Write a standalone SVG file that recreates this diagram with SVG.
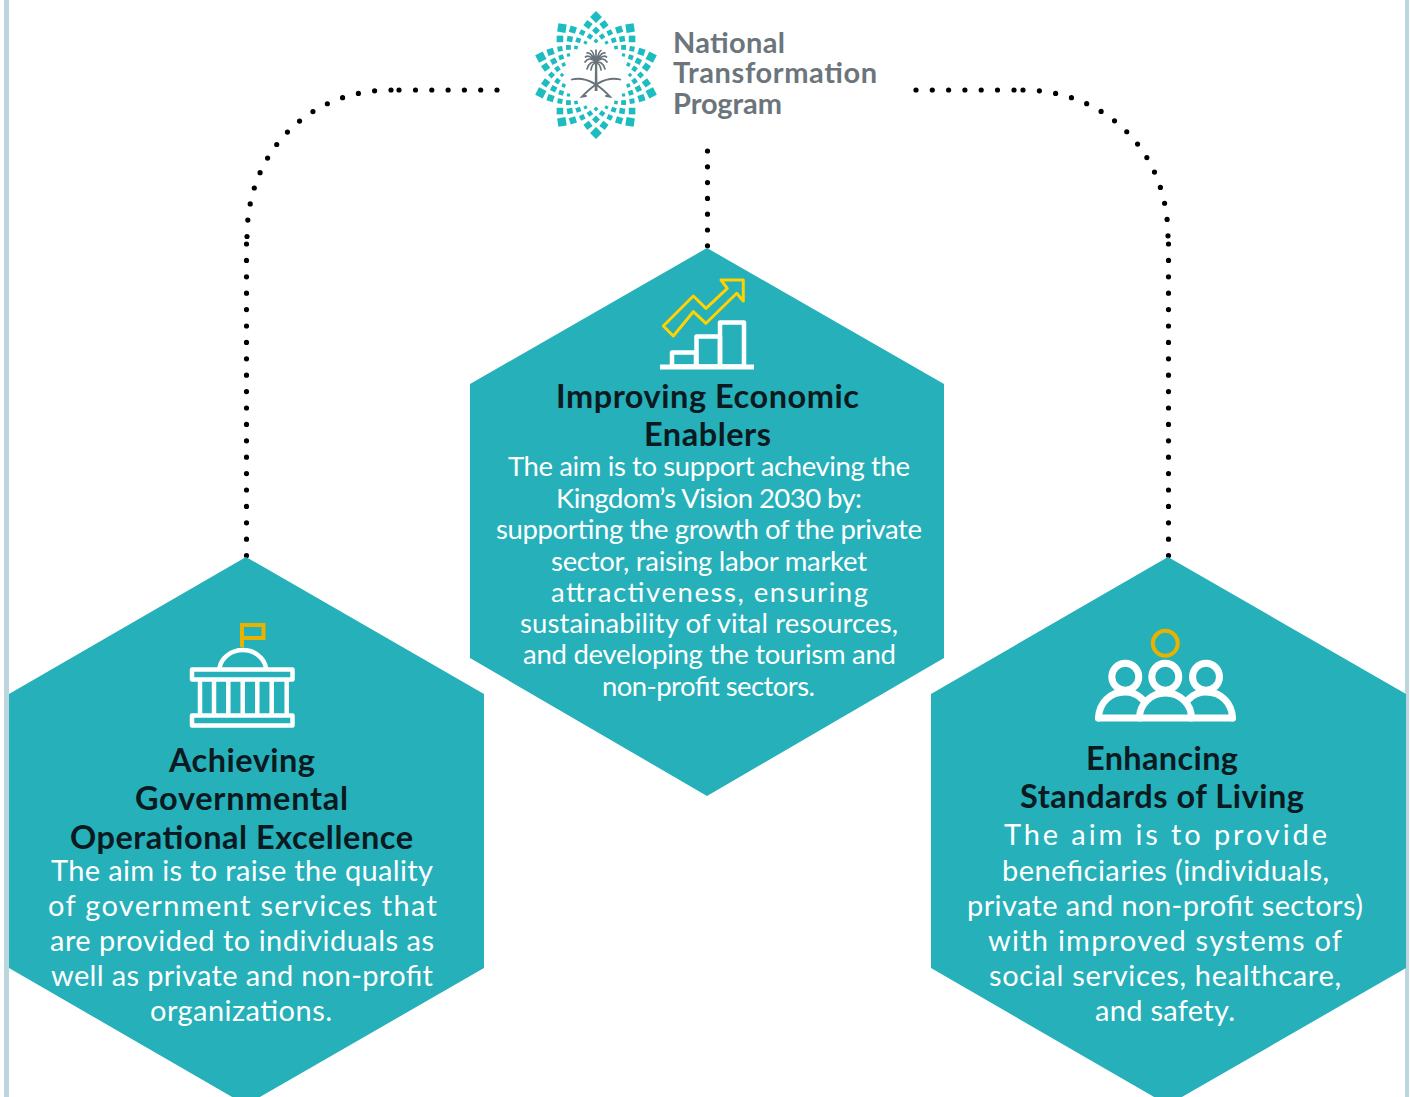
<svg xmlns="http://www.w3.org/2000/svg" xmlns:xlink="http://www.w3.org/1999/xlink" width="1410" height="1097" viewBox="0 0 1410 1097">
<style>
.hex{fill:#25b0ba}
.band{fill:#bcd6de}
.dots{fill:none;stroke:#000;stroke-width:5.200;stroke-linecap:round}
.t{font-family:"Lato","Open Sans",sans-serif;font-weight:700;font-size:32.500px;fill:#0b1a20}
.b{font-family:"Lato","Open Sans",sans-serif;font-weight:400;font-size:29px;fill:#fff}
.c{font-size:27.500px}
.l{font-family:"Lato","Open Sans",sans-serif;font-weight:700;font-size:29px;fill:#6c757b}
.w{fill:none;stroke:#fff;stroke-width:4.500;stroke-linejoin:round;stroke-linecap:round}
.y{fill:none;stroke:#e8b200;stroke-width:4}
.sq{fill:#1dbcc0}
.fr{fill:none;stroke:#69737a;stroke-width:1.700;stroke-linecap:round}
.sw{fill:none;stroke:#69737a;stroke-width:1.800;stroke-linecap:round}
</style>
<defs>
<g id="arm" class="sq">
<rect x="-4.200" y="-62.200" width="8.400" height="8.400" transform="rotate(45 0 -58)"/>
<rect x="-3.300" y="-54.300" width="6.600" height="6.600" transform="rotate(-9) rotate(45 0 -51)"/>
<rect x="-3.300" y="-54.300" width="6.600" height="6.600" transform="rotate(9) rotate(45 0 -51)"/>
<rect x="-2.800" y="-47.300" width="5.600" height="5.600" transform="rotate(45 0 -44.500)"/>
<rect x="-2.500" y="-47" width="5" height="5" transform="rotate(18) rotate(45 0 -44.500)"/>
<rect x="-2.400" y="-41.400" width="4.800" height="4.800" transform="rotate(-9) rotate(45 0 -39)"/>
<rect x="-2.400" y="-41.400" width="4.800" height="4.800" transform="rotate(9) rotate(45 0 -39)"/>
<rect x="-1.800" y="-35.800" width="3.600" height="3.600" transform="rotate(45 0 -34)"/>
<rect x="-1.600" y="-35.600" width="3.200" height="3.200" transform="rotate(18) rotate(45 0 -34)"/>
</g>
</defs>
<rect class="band" x="4" y="0" width="5" height="1097"/>
<rect class="band" x="1405" y="0" width="4" height="1097"/>
<g id="connectors">
<path class="dots" stroke-dasharray="0 16.300" d="M497 90H401"/>
<path class="dots" d="M399 90H399"/>
<path class="dots" stroke-dasharray="0 16.400" d="M391 90C310 90 247 150 247 237"/>
<path class="dots" stroke-dasharray="0 16.400" d="M246.500 244V557"/>
<path class="dots" stroke-dasharray="0 16.300" d="M916 90H1013"/>
<path class="dots" d="M1014 90H1014"/>
<path class="dots" stroke-dasharray="0 16.400" d="M1023 90C1104 90 1168 150 1168 237"/>
<path class="dots" stroke-dasharray="0 16.400" d="M1168.500 244V557"/>
<path class="dots" stroke-dasharray="0 15.800" d="M707.500 151V247"/>
</g>
<g id="logo">
<g transform="translate(596 75)">
<use xlink:href="#arm" href="#arm"/>
<use xlink:href="#arm" href="#arm" transform="rotate(36)"/>
<use xlink:href="#arm" href="#arm" transform="rotate(72)"/>
<use xlink:href="#arm" href="#arm" transform="rotate(108)"/>
<use xlink:href="#arm" href="#arm" transform="rotate(144)"/>
<use xlink:href="#arm" href="#arm" transform="rotate(180)"/>
<use xlink:href="#arm" href="#arm" transform="rotate(216)"/>
<use xlink:href="#arm" href="#arm" transform="rotate(252)"/>
<use xlink:href="#arm" href="#arm" transform="rotate(288)"/>
<use xlink:href="#arm" href="#arm" transform="rotate(324)"/>
</g>
<path d="M595 64H597.200L597.500 91H594.700Z" fill="#69737a"/>
<path class="fr" d="M596 62Q589 56 585 62M596 62Q589 54 585.500 57M596 62Q591 52 587 53M596 62Q593 51 591 50.500M596 62V50M596 62Q599 51 601 50.500M596 62Q601 52 605 53M596 62Q603 54 606.500 57M596 62Q603 56 607 62M596 63Q590 60 587 69M596 63Q592 63 591 70M596 63Q600 63 601 70M596 63Q602 60 605 69"/>
<path class="sw" d="M571.700 79.500Q590 75 610 96.700L606 96"/>
<path class="sw" d="M620.300 79.500Q602 75 582 96.700L586 96"/>
<text class="l" x="673" y="53" textLength="112">National</text>
<text class="l" x="673" y="83" textLength="204">Transformation</text>
<text class="l" x="673" y="114" textLength="109">Program</text>
</g>
<g id="node-economic">
<polygon class="hex" points="707,248 944,384 944,658 707,796 470,658 470,384"/>
<polygon points="663.300,326 693.300,296 706,308.300 727.300,288.300 721,280 743.300,280 743.300,301 736.700,293.300 706,323.300 693.300,311.700 673.300,336" fill="none" stroke="#ffd200" stroke-width="3" stroke-linejoin="round"/>
<rect class="w" x="672" y="352.500" width="24" height="14"/>
<rect class="w" x="696.500" y="336.500" width="23.500" height="30"/>
<rect class="w" x="720" y="322.500" width="24" height="44"/>
<rect x="660" y="364.500" width="94" height="5" fill="#fff"/>
<text class="t" x="556" y="408" textLength="303">Improving Economic</text>
<text class="t" x="644" y="446" textLength="127">Enablers</text>
<text class="b c" x="508" y="476" textLength="402">The aim is to support acheving the</text>
<text class="b c" x="556" y="508" textLength="306">Kingdom’s Vision 2030 by:</text>
<text class="b c" x="496" y="539" textLength="426">supporting the growth of the private</text>
<text class="b c" x="551" y="571" textLength="316">sector, raising labor market</text>
<text class="b c" x="551" y="602" textLength="317">attractiveness, ensuring</text>
<text class="b c" x="520" y="633" textLength="378">sustainability of vital resources,</text>
<text class="b c" x="523" y="664" textLength="373">and developing the tourism and</text>
<text class="b c" x="602" y="696" textLength="213">non-profit sectors.</text>
</g>
<g id="node-government">
<polygon class="hex" points="246,557 484,694 484,968 246,1105 9,968 9,694"/>
<path class="w" d="M219.500 668A23.500 21 0 0 1 266 668"/>
<rect class="w" x="192" y="669.500" width="100.500" height="10"/>
<rect class="w" x="192" y="715.500" width="100.500" height="10"/>
<path class="w" d="M200 681V714M214 681V714M228.300 681V714M242.700 681V714M257.300 681V714M271.700 681V714M286.700 681V714"/>
<path class="y" d="M242 647V625H263.500V638H242"/>
<text class="t" x="169" y="772" textLength="146">Achieving</text>
<text class="t" x="135" y="810" textLength="213">Governmental</text>
<text class="t" x="70" y="849" textLength="343">Operational Excellence</text>
<text class="b" x="51" y="881" textLength="382">The aim is to raise the quality</text>
<text class="b" x="48" y="916" textLength="389">of government services that</text>
<text class="b" x="50" y="951" textLength="384">are provided to individuals as</text>
<text class="b" x="51" y="986" textLength="382">well as private and non-profit</text>
<text class="b" x="150" y="1021" textLength="182">organizations.</text>
</g>
<g id="node-living">
<polygon class="hex" points="1168,557 1406,694 1406,968 1168,1105 931,968 931,694"/>
<circle class="y" cx="1165.300" cy="643.300" r="12.500"/>
<g class="w" style="stroke-width:7">
<circle cx="1125.300" cy="676.700" r="13.500"/>
<circle cx="1165.300" cy="676.700" r="13.500"/>
<circle cx="1206" cy="676.700" r="13.500"/>
<path d="M1098.500 718H1232.500"/>
<path d="M1139.500 718A26 25 0 0 1 1191.500 718"/>
<path d="M1098.500 718C1099 703 1110 692 1125 692C1132 692 1137 694 1142 699"/>
<path d="M1232.500 718C1232 703 1221 692 1206 692C1199 692 1194 694 1189 699"/>
</g>
<text class="t" x="1086" y="770" textLength="152">Enhancing</text>
<text class="t" x="1020" y="808" textLength="284">Standards of Living</text>
<text class="b" x="1004" y="845" textLength="323">The aim is to provide</text>
<text class="b" x="1002" y="881" textLength="327">beneficiaries (individuals,</text>
<text class="b" x="967" y="916" textLength="396">private and non-profit sectors)</text>
<text class="b" x="988" y="951" textLength="354">with improved systems of</text>
<text class="b" x="989" y="986" textLength="352">social services, healthcare,</text>
<text class="b" x="1095" y="1021" textLength="140">and safety.</text>
</g>
</svg>
